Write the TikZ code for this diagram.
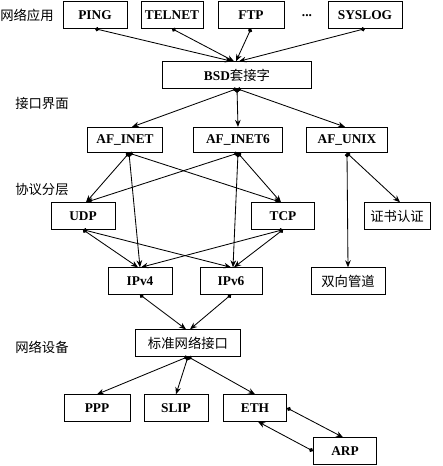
\documentclass[tikz,border=0pt]{standalone}
\usepackage{fontspec}
\setmainfont{Liberation Serif}
\newfontfamily\cjk{Noto Sans CJK SC}
\usetikzlibrary{arrows.meta,calc}

\tikzset{
    % Box with latin label
    boxnode/.style={
        draw=black,
        fill=white,
        line width=0.7pt,
        minimum height=0.66cm,
        inner sep=1pt,
        font=\fontsize{9.5}{11}\selectfont\bfseries
    },
    % Box with chinese label
    cnnode/.style={
        boxnode,
        font=\fontsize{9.5}{11}\selectfont\cjk
    },
    % Layer label on the left
    layerlabel/.style={
        anchor=west,
        inner sep=0pt,
        font=\fontsize{9.5}{11}\selectfont\cjk
    },
    % Connector: dot at start, arrow at end
    link/.style={
        {Circle[length=3pt]}-{Stealth[length=5pt,width=4pt]},
        line width=0.6pt,
        draw=black
    }
}

\begin{document}
\begin{tikzpicture}[x=0.025cm, y=-0.025cm]
    \useasboundingbox (0,0) rectangle (442,466);

    % layer labels
    \node[layerlabel] (lapp) at (0,15) {网络应用};
    \node[layerlabel] (lif) at (15,103) {接口界面};
    \node[layerlabel] (lproto) at (15,189) {协议分层};
    \node[layerlabel] (ldev) at (15,347) {网络设备};

    % applications
    \node[boxnode, minimum width=1.6cm] (ping) at (95,15) {PING};
    \node[boxnode, minimum width=1.55cm] (telnet) at (172,15) {TELNET};
    \node[boxnode, minimum width=1.65cm] (ftp) at (251,15) {FTP};
    \node[anchor=base, inner sep=0pt, font=\fontsize{9.5}{11}\selectfont\bfseries] (more) at (307,16.5) {...};
    \node[boxnode, minimum width=1.85cm] (syslog) at (365,15) {SYSLOG};

    % socket
    \node[boxnode, minimum width=3.7cm] (bsd) at (237,75) {BSD{\cjk\mdseries 套接字}};

    % address families
    \node[boxnode, minimum width=1.85cm, minimum height=0.63cm] (afinet) at (125,140) {AF\_INET};
    \node[boxnode, minimum width=2.2cm, minimum height=0.63cm] (afinetsix) at (238,140) {AF\_INET6};
    \node[boxnode, minimum width=2.03cm, minimum height=0.63cm] (afunix) at (347,140) {AF\_UNIX};

    % transport
    \node[boxnode, minimum width=1.6cm] (udp) at (83,216) {UDP};
    \node[boxnode, minimum width=1.58cm] (tcp) at (283,216) {TCP};
    \node[cnnode, minimum width=1.65cm] (cert) at (397,216) {证书认证};

    % network
    \node[boxnode, minimum width=1.6cm] (ipv4) at (140,281) {IPv4};
    \node[boxnode, minimum width=1.55cm] (ipv6) at (231,281) {IPv6};
    \node[cnnode, minimum width=1.85cm] (pipe) at (348,281) {双向管道};

    % devices
    \node[cnnode, minimum width=2.6cm] (stdif) at (188,343) {标准网络接口};
    \node[boxnode, minimum width=1.65cm] (ppp) at (97,408) {PPP};
    \node[boxnode, minimum width=1.6cm] (slip) at (176,408) {SLIP};
    \node[boxnode, minimum width=1.58cm] (eth) at (255,408) {ETH};
    \node[boxnode, minimum width=1.58cm] (arp) at (345,451) {ARP};

    % applications to socket
    \draw[link] (ping.south) -- ($(bsd.north)+(-5,0)$);
    \draw[link] (telnet.south) -- ($(bsd.north)+(-3,0)$);
    \draw[link] (ftp.south) -- ($(bsd.north)+(-1,0)$);
    \draw[link] (syslog.south) -- ($(bsd.north)+(2,0)$);

    % socket to families
    \draw[link] (bsd.south) -- ($(afinet.north)+(7,0)$);
    \draw[link] (bsd.south) -- (afinetsix.north);
    \draw[link] (bsd.south) -- ($(afunix.north)+(-2,0)$);

    % families to transport
    \draw[link] ($(afinet.south)+(4,0)$) -- ($(udp.north)+(3,0)$);
    \draw[link] ($(afinet.south)+(4,0)$) -- ($(tcp.north)+(-2,0)$);
    \draw[link] ($(afinet.south)+(4,0)$) -- ($(ipv4.north)+(0,0)$);
    \draw[link] (afinetsix.south) -- ($(udp.north)+(3,0)$);
    \draw[link] (afinetsix.south) -- ($(tcp.north)+(-2,0)$);
    \draw[link] (afinetsix.south) -- ($(ipv6.north)+(2,0)$);
    \draw[link] (afunix.south) -- ($(cert.north)+(3,0)$);
    \draw[link] (afunix.south) -- (pipe.north);

    % transport to network
    \draw[link] (udp.south) -- ($(ipv4.north)+(-2,0)$);
    \draw[link] (udp.south) -- ($(ipv6.north)+(0,0)$);
    \draw[link] (tcp.south) -- ($(ipv4.north)+(1,0)$);
    \draw[link] (tcp.south) -- ($(ipv6.north)+(3,0)$);

    % network to interface
    \draw[link] (ipv4.south) -- ($(stdif.north)+(-2,0)$);
    \draw[link] (ipv6.south) -- ($(stdif.north)+(2,0)$);

    % interface to devices
    \draw[link] (stdif.south) -- (ppp.north);
    \draw[link] (stdif.south) -- (slip.north);
    \draw[link] (stdif.south) -- (eth.north);
    \draw[link] (eth.east) -- ($(arp.north)+(-2,0)$);
    \draw[link] (arp.west) -- ($(eth.south)+(3,0)$);
\end{tikzpicture}
\end{document}
